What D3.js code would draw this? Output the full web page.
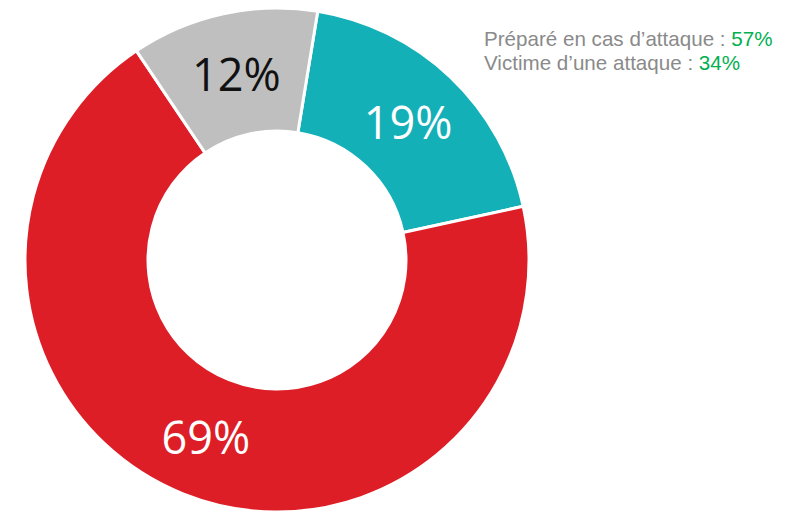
<!DOCTYPE html>
<html>
<head>
<meta charset="utf-8">
<script src="https://cdn.jsdelivr.net/npm/d3@7"></script>
<style>
  html,body{margin:0;padding:0;background:#fff;}
  svg{display:block;font-family:"Open Sans","Noto Sans",sans-serif;}
  .legend{font-family:"Liberation Sans",Arial,sans-serif;}
</style>
</head>
<body>
<svg id="chart" width="803" height="512"></svg>
<script>
const categories = ['teal', 'red', 'grey'];
const values = [19, 69, 12];
const labels = ['19%', '69%', '12%'];
const colors = ['#14b0b8', '#dd1e26', '#bfbfbf'];
const labelColors = ['#ffffff', '#ffffff', '#111111'];
const legendText = ['Préparé en cas d’attaque : ', 'Victime d’une attaque : '];
const legendValues = ['57%', '34%'];

const svg = d3.select('#chart');
const cx = 277, cy = 260;
const outerR = 252, innerR = 129;
const startDeg = 9.3;

const pie = d3.pie().sort(null).value(d => d)
  .startAngle(startDeg * Math.PI / 180)
  .endAngle((startDeg + 360) * Math.PI / 180);
const arc = d3.arc().innerRadius(innerR).outerRadius(outerR);
const arcs = pie(values);

const g = svg.append('g').attr('transform', `translate(${cx},${cy})`);
g.selectAll('path').data(arcs).join('path')
  .attr('d', arc)
  .attr('fill', (d, i) => colors[i])
  .attr('stroke', '#fff')
  .attr('stroke-width', 3);

g.selectAll('text').data(arcs).join('text')
  .attr('transform', d => `translate(${arc.centroid(d)})`)
  .attr('text-anchor', 'middle')
  .attr('dy', '0.38em')
  .attr('font-size', 45)
  .attr('fill', (d, i) => labelColors[i])
  .text((d, i) => labels[i]);

// legend text top right
const leg = svg.append('g').attr('class', 'legend').attr('transform', 'translate(484,46)');
legendText.forEach((t, i) => {
  const tx = leg.append('text').attr('y', i * 24).attr('font-size', 20.6).attr('fill', '#8a8a8a');
  tx.append('tspan').text(t);
  tx.append('tspan').attr('fill', '#00b050').text(legendValues[i]);
});
</script>
</body>
</html>
